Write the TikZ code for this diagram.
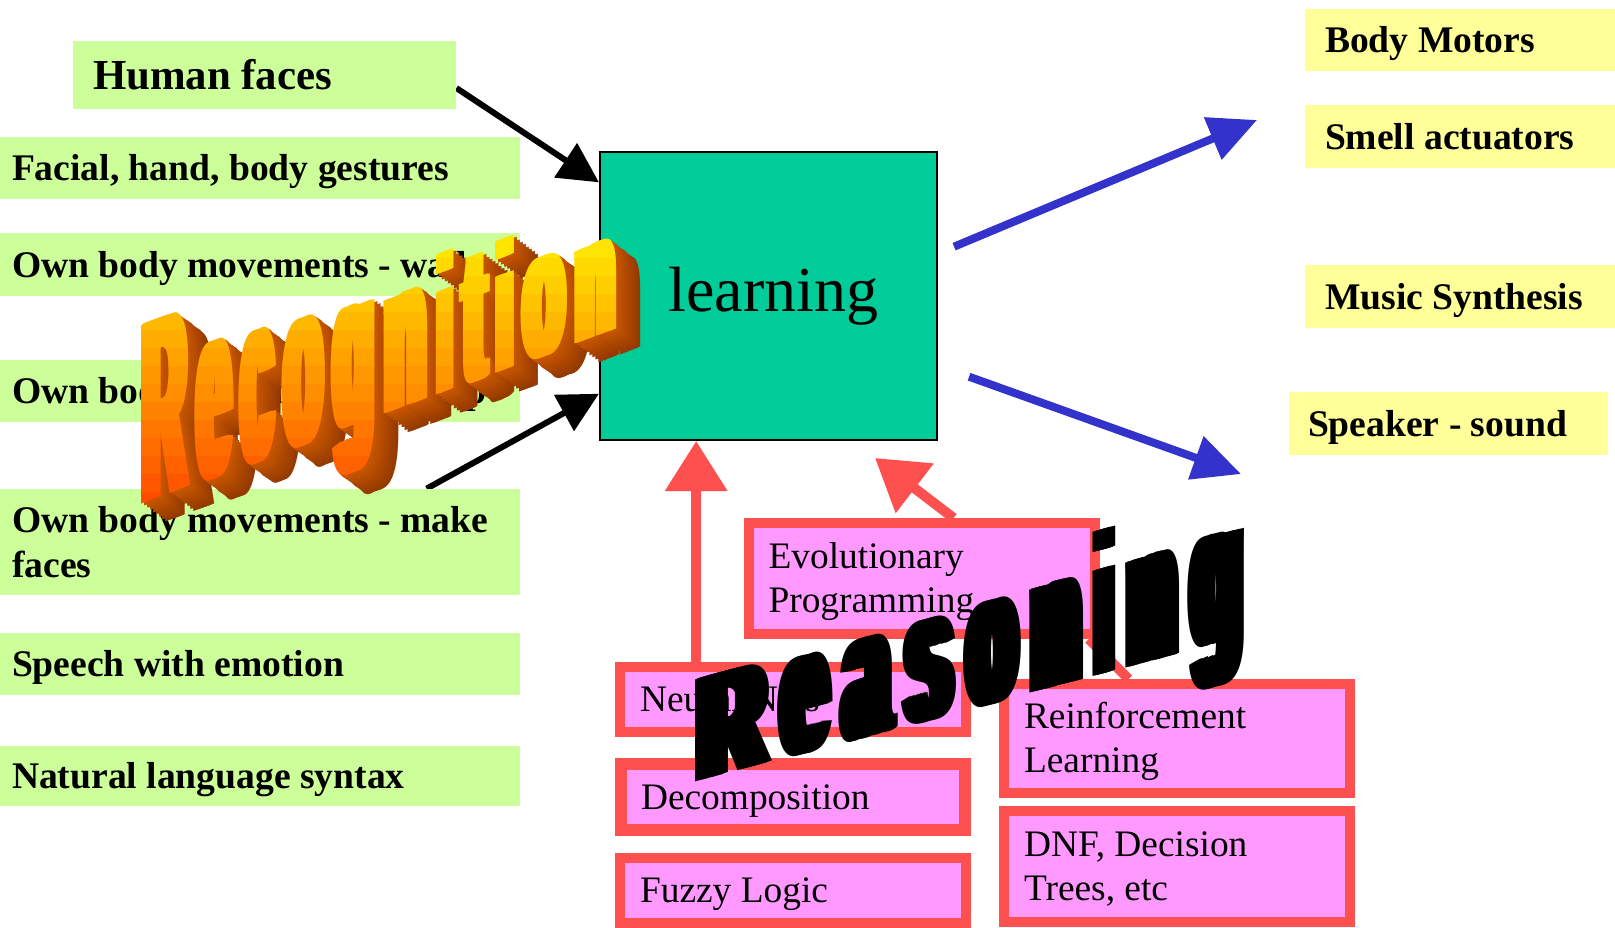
\documentclass[tikz,border=0pt]{standalone}
\usepackage{fontspec}
\usepackage{graphicx}
\usetikzlibrary{arrows.meta,calc,backgrounds}
\setmainfont{Liberation Serif}
\newfontfamily\artfont{Liberation Sans}

\definecolor{lgreen}{HTML}{CCFF99}
\definecolor{lyellow}{HTML}{FFFF99}
\definecolor{learnfill}{HTML}{00CC99}
\definecolor{pinkfill}{HTML}{FF99FF}
\definecolor{rline}{HTML}{FF5050}
\definecolor{bluec}{HTML}{3333CC}
\definecolor{rtop}{HTML}{FFE400}
\definecolor{rbot}{HTML}{FF4000}
\definecolor{rside}{HTML}{CC5800}
\definecolor{rdark}{HTML}{953A00}

% glyph thickened sideways by overlapping copies; #1 step, #2 glyph
\newcommand\heavyglyph[2]{\rlap{#2}\kern#1\rlap{#2}\kern#1\rlap{#2}\kern#1\rlap{#2}\kern#1\rlap{#2}\kern#1\rlap{#2}\kern#1\rlap{#2}\kern#1\rlap{#2}\kern#1#2}

% "Recognition": one sheared, shrinking glyph per letter; #1 colour, #2/#3 offset
\newcommand\recogletters[3]{%
  \foreach \lt/\lx/\lw/\lh in {R/137/55/178,e/192/44/142,c/236/43/142,o/279/49/142,g/328/51/142,n/379/53/142,i/432/26/182,t/458/33/168,i/491/27/182,o/518/52/142,n/570/50/142}{%
    \pgfmathsetmacro\scl{1-0.38*(\lx-137)/480}%
    \pgfmathsetmacro\yb{505-0.368*(\lx-137)}%
    \pgfmathsetmacro\hh{0.5*\lh*\scl}%
    \pgfmathsetmacro\ww{0.5*\lw}%
    \begin{scope}[shift={(\lx+#2,\yb+#3)},yslant=0.368]
      \node[wordart] (rec-\lx) at (0,0) {\color{#1}\resizebox{\ww pt}{\hh pt}{\heavyglyph{.024em}{\lt}}};
    \end{scope}
  }%
}

% "Reasoning": sheared, growing glyphs
\newcommand\reasonletters{%
  \foreach \lt/\lx/\lw/\lh in {R/689/85/102,e/774/62/97,a/836/62/99,s/898/62/101,o/960/64/103,n/1024/64/105,i/1088/32/144,n/1120/64/107,g/1184/66/110}{%
    \pgfmathsetmacro\yb{783-0.264*(\lx-689)}%
    \pgfmathsetmacro\hh{0.5*\lh}%
    \pgfmathsetmacro\ww{0.5*\lw}%
    \begin{scope}[shift={(\lx,\yb)},yslant=0.264]
      \node[wordart] (rea-\lx) at (0,0) {\color{black}\resizebox{\ww pt}{\hh pt}{\heavyglyph{.028em}{\lt}}};
    \end{scope}
  }%
}

\begin{document}
\begin{tikzpicture}[x=0.5pt,y=-0.5pt,
  greenbox/.style={fill=lgreen, anchor=center, inner xsep=6pt, inner ysep=0pt,
    text width=248pt, align=flush left, font=\bfseries\fontsize{18.8}{22.5}\selectfont,
    text height=12.8pt, text depth=0pt},
  hfbox/.style={greenbox, inner xsep=10pt, text width=171.5pt,
    font=\bfseries\fontsize{21.4}{24}\selectfont, text height=14.6pt},
  yellowbox/.style={greenbox, fill=lyellow, inner xsep=10pt, text width=135pt},
  pinkbox/.style={draw=rline, line width=5pt, fill=pinkfill, anchor=center,
    inner xsep=10pt, inner ysep=0pt, text width=153pt, align=flush left,
    font=\fontsize{18.7}{22}\selectfont, text height=12.4pt, text depth=0pt},
  learnbox/.style={draw=black, line width=1pt, fill=learnfill, inner sep=0pt,
    minimum width=168.5pt, minimum height=144pt, font=\fontsize{32}{36}\selectfont},
  redarrow/.style={draw=rline, line width=5pt, -{Triangle[width=30pt,length=25pt]}},
  redline/.style={draw=rline, line width=5pt},
  blackarrow/.style={draw=black, line width=3pt, -{Triangle[width=20pt,length=20pt]}},
  bluearrow/.style={draw=bluec, line width=4pt, -{Triangle[width=22pt,length=24pt]}},
  wordart/.style={anchor=base west, inner sep=0pt, outer sep=0pt, transform shape,
    font=\artfont\bfseries\fontsize{50}{50}\selectfont}
]
\useasboundingbox (0,0) rectangle (1615,927);
\begin{pgfonlayer}{background}
  \fill[white] (0,0) rectangle (1615,927);
\end{pgfonlayer}

% inputs
\node[hfbox, minimum height=34pt] (hf) at (264.5,75) {Human faces};
\node[greenbox, minimum height=31pt] (g1) at (260,168) {Facial, hand, body gestures};
\node[greenbox, minimum height=31.5pt] (g2) at (260,264.5) {Own body movements - walk};
\node[greenbox, minimum height=31pt] (g3) at (260,391) {Own body movements - jump};
\node[greenbox, minimum height=53pt, text depth=22.5pt] (g4) at (260,542) {Own body movements - make\\faces};
\node[greenbox, minimum height=31pt] (g5) at (260,664) {Speech with emotion};
\node[greenbox, minimum height=30pt] (g6) at (260,776) {Natural language syntax};

% outputs
\node[yellowbox, minimum height=31pt] (y1) at (1460,40) {Body Motors};
\node[yellowbox, minimum height=31.5pt] (y2) at (1460,136.5) {Smell actuators};
\node[yellowbox, minimum height=31.5pt] (y3) at (1460,296.5) {Music Synthesis};
\node[yellowbox, minimum height=31.5pt, inner xsep=9.5pt, text width=140.5pt] (y4) at (1448.5,423.5) {Speaker - sound};

% core
\node[learnbox] (learn) at (768.5,296) {\hspace*{5pt}learning};

% methods
\node[pinkbox, minimum height=55.5pt, text depth=22pt] (p1) at (921.5,578.5) {Evolutionary\\Programming};
\node[pinkbox, minimum height=32.5pt] (p2) at (793,699.5) {Neural Nets};
\node[pinkbox, minimum height=33pt, line width=6pt, text width=152pt] (p3) at (793,797) {Decomposition};
\node[pinkbox, minimum height=32.5pt] (p4) at (793,890.5) {Fuzzy Logic};
\node[pinkbox, minimum height=54.5pt, text depth=22pt] (p5) at (1177,738.5) {Reinforcement\\Learning};
\node[pinkbox, minimum height=55.5pt, text depth=22pt] (p6) at (1177,866.5) {DNF, Decision\\Trees, etc};

% connectors, behind the boxes
\begin{pgfonlayer}{background}
  \coordinate (smelltip) at (1257,120);
  \coordinate (speakertip) at (1241,474);
  \coordinate (evotip) at (875,458);
  \coordinate (r1s) at ($(p2.north west)!0.228!(p2.north east)$);
  \draw[redarrow] (r1s) -- (r1s |- learn.south);
  \draw[redarrow] ($(p1.north west)!0.59!(p1.north east)$) -- (evotip);
  \draw[redline] ($(p5.north west)!0.364!(p5.north east)$) -- ($(p1.south east)!0.03!(p1.south west)$);
  \draw[blackarrow] ($(hf.north east)!0.69!(hf.south east)$) -- ($(learn.north west)!0.108!(learn.south west)$);
  \draw[blackarrow] ($(g4.north west)!0.82!(g4.north east)$) -- ($(learn.north west)!0.837!(learn.south west)$);
  \draw[bluearrow, shorten <=8.7pt] ($(learn.north east)!0.353!(learn.south east)$) -- (smelltip);
  \draw[bluearrow, shorten <=16.5pt] ($(learn.north east)!0.74!(learn.south east)$) -- (speakertip);
\end{pgfonlayer}

% Recognition: extruded side, far to near
\foreach \dep in {8,...,1}{%
  \pgfmathsetmacro\pp{12.5*\dep}%
  \colorlet{extc}{rdark!\pp!rside}%
  \recogletters{extc}{3.0*\dep}{2.3*\dep}%
}
% Recognition: front face with vertical colour bands
\foreach \k in {0,...,15}{%
  \pgfmathsetmacro\ya{ifthenelse(\k==0,0,240+18*\k)}%
  \pgfmathsetmacro\yz{ifthenelse(\k==15,927,258+18*\k)}%
  \pgfmathsetmacro\pp{100*\k/15}%
  \colorlet{bandc}{rbot!\pp!rtop}%
  \begin{scope}
    \clip (0,\ya) rectangle (1615,\yz);
    \recogletters{bandc}{0}{0}%
  \end{scope}
}

% Reasoning
\reasonletters

\end{tikzpicture}
\end{document}
